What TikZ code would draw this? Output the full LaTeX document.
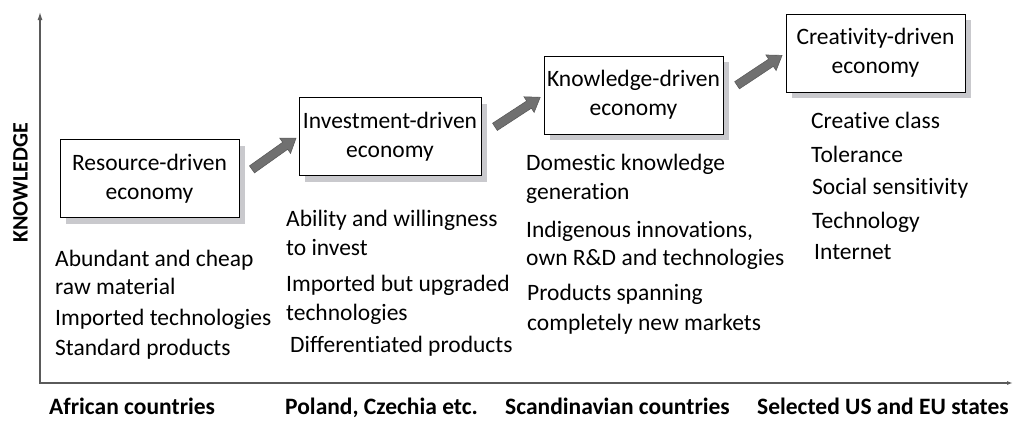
\documentclass[tikz,border=0pt]{standalone}
\usepackage{fontspec}
\setmainfont[Ligatures=NoCommon]{Carlito}
\usepackage{tikz}
\usetikzlibrary{shapes.arrows,shadows,arrows.meta}
\definecolor{shadowgray}{HTML}{C9C9CD}
\definecolor{arrowgray}{HTML}{707070}
\definecolor{axisgray}{HTML}{5A5A5A}
\newcommand\bodyfont{\fontsize{23.5}{29}\selectfont}
\tikzset{
	stage/.style={draw=black, line width=0.8pt, fill=white, inner sep=0pt, align=center,
		minimum width=179pt, minimum height=78pt,
		drop shadow={shadow xshift=6pt, shadow yshift=-6pt, fill=shadowgray, opacity=1}},
	item/.style={anchor=west, inner sep=0pt, text height=18pt, text depth=4pt},
	country/.style={item, font=\bodyfont\bfseries},
	blockarrow/.style={single arrow, draw=axisgray, fill=arrowgray, line width=0.6pt,
		minimum height=54pt, inner sep=0pt, text height=4pt, text depth=4pt,
		single arrow head extend=5pt, single arrow tip angle=70, sloped},
	axis/.style={draw=axisgray, line width=1.2pt, {Latex[length=8pt,width=5pt]}-{Latex[length=6pt,width=4pt]}}
}
\begin{document}
\begin{tikzpicture}[x=1pt, y=-1pt, font=\bodyfont]
	\useasboundingbox (0,0) rectangle (1014,421);

	\coordinate (ytop) at (40,12);
	\coordinate (origin) at (40,383);
	\coordinate (xend) at (1013,383);
	\draw[axis] (ytop) -- (origin) -- (xend);
	\node[rotate=90, inner sep=0pt, font=\fontsize{22}{26}\selectfont\bfseries] (know) at (20.5,183) {KNOWLEDGE};

	\node[stage] (res) at (149.5,178.5) {Resource-driven\\economy};
	\node[stage, minimum width=182pt] (inv) at (390,136.5) {Investment-driven\\economy};
	\node[stage] (kno) at (633.5,95) {Knowledge-driven\\economy};
	\node[stage] (cre) at (875.5,53) {Creativity-driven\\economy};

	\foreach \a/\b in {res/inv,inv/kno,kno/cre}
	{
		\path ([shift={(11,-8)}]\a.east) -- node[blockarrow]{} ([shift={(-6,4)}]\b.west);
	}

	\foreach \x/\y/\t[count=\k] in {55/259/Abundant and cheap, 55/287/raw material, 55/318/Imported technologies, 55/348/Standard products}
	{
		\node[item] (resitem\k) at (\x,\y) {\t};
	}
	\foreach \x/\y/\t[count=\k] in {286/219/Ability and willingness, 286/248/to invest, 286/284/Imported but upgraded, 286/313/technologies, 290/345/Differentiated products}
	{
		\node[item] (invitem\k) at (\x,\y) {\t};
	}
	\foreach \x/\y/\t[count=\k] in {526/163/Domestic knowledge, 526/192/generation, 526/230/{Indigenous innovations,}, 526/258/own R\&D and technologies, 527/293/Products spanning, 527/323/completely new markets}
	{
		\node[item] (knoitem\k) at (\x,\y) {\t};
	}
	\foreach \x/\y/\t[count=\k] in {811/121/Creative class, 811/155/Tolerance, 812/187/Social sensitivity, 812/221/Technology, 814/252/Internet}
	{
		\node[item] (creitem\k) at (\x,\y) {\t};
	}

	\node[country] (africa) at (49,407) {African countries};
	\node[country] (poland) at (285,407) {Poland, Czechia etc.};
	\node[country] (scandi) at (505,407) {Scandinavian countries};
	\node[country] (useu) at (757,407) {Selected US and EU states};
\end{tikzpicture}
\end{document}
